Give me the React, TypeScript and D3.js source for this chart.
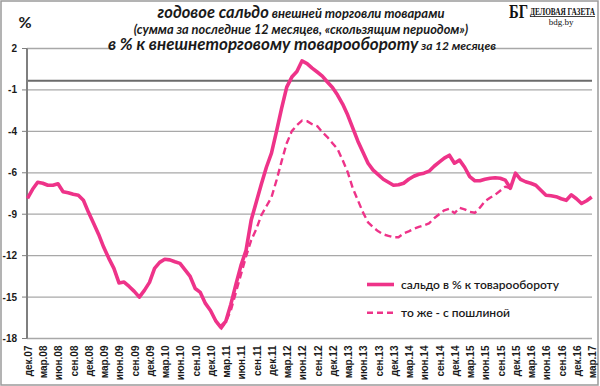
import React from "react";
import * as d3 from "d3";

const quarterLabels = [
  "дек.07","мар.08","июн.08","сен.08","дек.08","мар.09","июн.09","сен.09","дек.09",
  "мар.10","июн.10","сен.10","дек.10","мар.11","июн.11","сен.11","дек.11","мар.12",
  "июн.12","сен.12","дек.12","мар.13","июн.13","сен.13","дек.13","мар.14","июн.14",
  "сен.14","дек.14","мар.15","июн.15","сен.15","дек.15","мар.16","июн.16","сен.16",
  "дек.16","мар.17",
];

const yTickLabels = ["2", "-1", "-4", "-6", "-9", "-12", "-15", "-18"];

// monthly, Dec 2007 .. Mar 2017
const saldo = [
  -8.33, -7.71, -7.22, -7.29, -7.43, -7.43, -7.33, -7.88, -7.95, -8.05,
  -8.12, -8.47, -9.3, -10.06, -10.82, -11.71, -12.47, -13.16, -14.17, -14.11,
  -14.41, -14.75, -15.15, -14.68, -14.13, -13.16, -12.75, -12.54, -12.58, -12.71,
  -12.82, -13.27, -13.72, -14.55, -14.82, -15.58, -16.07, -16.76, -17.21, -16.83,
  -15.65, -14.27, -12.96, -11.92, -9.85, -8.6, -7.36, -6.19, -5.22, -3.7,
  -2.11, -0.66, 0.03, 0.41, 1.14, 0.96, 0.65, 0.38, 0.1, -0.31,
  -0.69, -1.21, -1.83, -2.59, -3.49, -4.39, -5.15, -5.91, -6.39, -6.7,
  -7.02, -7.22, -7.43, -7.4, -7.29, -7.02, -6.81, -6.67, -6.6, -6.46,
  -6.12, -5.84, -5.56, -5.36, -5.91, -5.7, -6.19, -6.84, -7.12, -7.12,
  -7.02, -6.95, -6.91, -6.95, -7.08, -7.64, -6.6, -7.02, -7.19, -7.29,
  -7.43, -7.78, -8.12, -8.16, -8.22, -8.36, -8.47, -8.09, -8.36, -8.69,
  -8.5, -8.24,
];

// starts at month index 38 (Feb 2011)
const dutyStart = 38;
const saldoWithDuty = [
  -17.38, -16.89, -16.07, -14.82, -13.58, -12.34, -11.23, -10.47, -9.5, -8.88,
  -8.26, -7.08, -5.77, -4.53, -3.7, -3.29, -2.97, -3.01, -3.22, -3.35,
  -3.77, -4.11, -4.53, -4.94, -5.7, -6.53, -7.64, -8.47, -9.3, -9.99,
  -10.33, -10.61, -10.82, -10.92, -11.02, -11.02, -10.75, -10.61, -10.44, -10.3,
  -10.19, -10.06, -9.71, -9.43, -9.16, -9.05, -9.36, -8.98, -9.09, -9.26,
  -9.33, -8.98, -8.54, -8.29, -8.09, -7.81, -7.53, -7.64,
];

const refLineValue = -0.22;
const legendLabels = ["сальдо в % к товарообороту", "то же - с пошлиной"];

const PINK = "#ee3389";
const GRID = "#a8a8a8";
const TEXT = "#1a1a1a";

export default function App() {
  const W = 600, H = 386;
  const left = 27, right = 592, top = 48.5, bottom = 338.5;
  const x = d3.scaleLinear().domain([0, saldo.length - 1]).range([27.5, 591.7]);
  const y = d3.scaleLinear().domain([-18, 2]).range([bottom, top]);
  const yTicks = d3.range(yTickLabels.length).map((i) => 2 - (i * 20) / (yTickLabels.length - 1));

  const line = d3.line<number>().x((_, i) => x(i)).y((d) => y(d)).curve(d3.curveLinear);
  const lineDuty = d3.line<number>().x((_, i) => x(i + dutyStart)).y((d) => y(d));

  const titleFont = "Lato, 'Open Sans', sans-serif";

  return (
    <svg width={W} height={H} style={{ position: "absolute", left: 0, top: 0, display: "block" }}
      fontFamily={titleFont}>
      <rect x={0} y={0} width={W} height={H} fill="#fff" />
      <rect x={1} y={1} width={597} height={384} fill="none" stroke="#9a9a9a" strokeWidth={1.5} />

      {/* gridlines */}
      {yTicks.map((t, i) => (
        <line key={"g" + i} x1={left} x2={right} y1={y(t)} y2={y(t)} stroke={GRID} strokeWidth={1.3} />
      ))}
      <line x1={left} x2={right} y1={y(refLineValue)} y2={y(refLineValue)} stroke="#6b6b6b" strokeWidth={2} />

      {/* y axis */}
      <line x1={left} x2={left} y1={top} y2={bottom} stroke="#7f7f7f" strokeWidth={2} />
      {yTicks.map((t, i) => (
        <g key={"t" + i}>
          <line x1={22} x2={left} y1={y(t)} y2={y(t)} stroke="#7f7f7f" strokeWidth={1} />
          <text x={17} y={y(t) + 3.5} textAnchor="end" fontFamily="'Liberation Sans', Arial, sans-serif"
            fontWeight="bold" fontSize={10} fill={TEXT}>{yTickLabels[i]}</text>
        </g>
      ))}

      {/* x labels */}
      {quarterLabels.map((lab, i) => {
        const px = x(i * 3) + 4.5;
        return (
          <text key={"x" + i} transform={`translate(${px},345.5) rotate(-90)`} textAnchor="end"
            fontFamily="'Liberation Sans', Arial, sans-serif" fontWeight="bold" fontSize={10} fill={TEXT}>
            {lab}
          </text>
        );
      })}

      {/* lines */}
      <path d={lineDuty(saldoWithDuty) || ""} fill="none" stroke={PINK} strokeWidth={2.4}
        strokeDasharray="7,4" strokeLinejoin="round" />
      <path d={line(saldo) || ""} fill="none" stroke={PINK} strokeWidth={3.6} strokeLinejoin="round" />

      {/* title */}
      <rect x={112} y={39} width={379} height={15} fill="#fff" />
      <text x={301} y={18} textAnchor="middle" fontStyle="italic" fontWeight="bold" fill={TEXT}>
        <tspan fontSize={16.5}>годовое сальдо</tspan>
        <tspan fontSize={13}> внешней торговли товарами</tspan>
      </text>
      <text x={301} y={33.5} textAnchor="middle" fontStyle="italic" fontWeight="bold" fontSize={12.8} fill={TEXT}>
        (сумма за последние 12 месяцев, «скользящим периодом»)
      </text>
      <text x={302} y={50} textAnchor="middle" fontStyle="italic" fontWeight="bold" fill={TEXT}>
        <tspan fontSize={17}>в % к внешнеторговому товарообороту</tspan>
        <tspan fontSize={12}> за 12 месяцев</tspan>
      </text>
      <text x={25} y={28} textAnchor="middle" fontWeight="bold" fontSize={16} fill={TEXT}>%</text>

      {/* logo */}
      <text x={509} y={18} fontFamily="'Liberation Serif', 'DejaVu Serif', serif" fontWeight="bold"
        fontSize={18} fill="#111" textLength={19} lengthAdjust="spacingAndGlyphs">БГ</text>
      <text x={530} y={15} fontFamily="'Liberation Serif', 'DejaVu Serif', serif" fontWeight="bold"
        fontSize={10.5} fill="#111" textLength={65} lengthAdjust="spacingAndGlyphs">ДЕЛОВАЯ ГАЗЕТА</text>
      <line x1={530} x2={595} y1={16.5} y2={16.5} stroke="#111" strokeWidth={0.8} />
      <text x={561} y={25} textAnchor="middle" fontFamily="'Liberation Serif', 'DejaVu Serif', serif"
        fontSize={9} fill="#111">bdg.by</text>

      {/* legend */}
      <line x1={367} x2={394} y1={284.5} y2={284.5} stroke={PINK} strokeWidth={3.6} />
      <text x={401} y={288.5} fontSize={12} fontWeight={600} fill={TEXT}>{legendLabels[0]}</text>
      <line x1={367} x2={394} y1={312.7} y2={312.7} stroke={PINK} strokeWidth={2.4} strokeDasharray="6,4" />
      <text x={401} y={316.5} fontSize={12} fontWeight={600} fill={TEXT}>{legendLabels[1]}</text>
    </svg>
  );
}
